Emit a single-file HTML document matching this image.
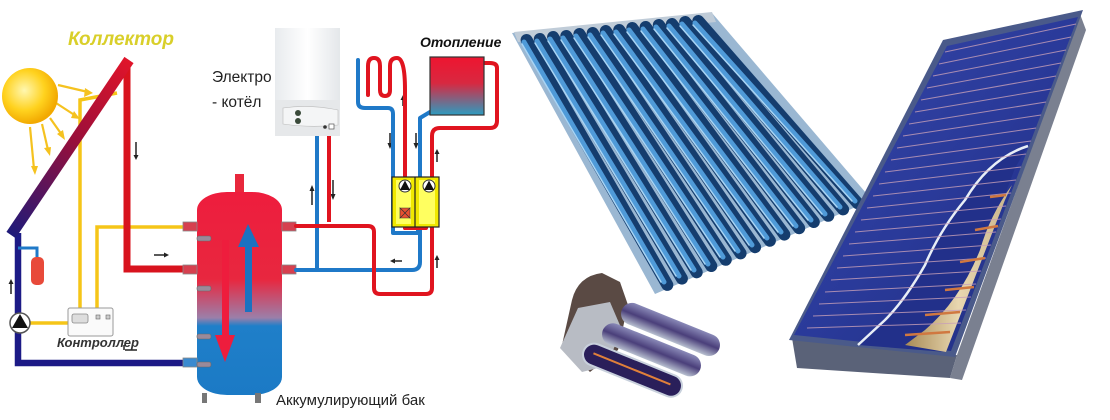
<!DOCTYPE html>
<html><head><meta charset="utf-8"><style>
html,body{margin:0;padding:0;background:#fff;width:1110px;height:420px;overflow:hidden}
svg{display:block}
</style></head><body>
<svg width="1110" height="420" viewBox="0 0 1110 420" xmlns="http://www.w3.org/2000/svg" font-family="Liberation Sans, DejaVu Sans, sans-serif">
<defs>
<radialGradient id="sun" cx="0.4" cy="0.4" r="0.6"><stop offset="0" stop-color="#fff7b0"/><stop offset="0.6" stop-color="#ffd21e"/><stop offset="1" stop-color="#f2a900"/></radialGradient>
<linearGradient id="coll" x1="127" y1="60" x2="10" y2="235" gradientUnits="userSpaceOnUse"><stop offset="0" stop-color="#e0142a"/><stop offset="0.45" stop-color="#9a0f3a"/><stop offset="1" stop-color="#1d1a7a"/></linearGradient>
<linearGradient id="tank" x1="0" y1="0" x2="0" y2="1"><stop offset="0" stop-color="#ee1d3d"/><stop offset="0.43" stop-color="#e8273f"/><stop offset="0.62" stop-color="#9b7fa9"/><stop offset="0.66" stop-color="#1f7fc9"/><stop offset="1" stop-color="#1b7ac5"/></linearGradient>
<linearGradient id="rad" x1="0" y1="0" x2="0" y2="1"><stop offset="0" stop-color="#ee1530"/><stop offset="0.45" stop-color="#d82840"/><stop offset="1" stop-color="#2d9cc0"/></linearGradient>
<linearGradient id="boiler" x1="0" y1="0" x2="1" y2="0"><stop offset="0" stop-color="#e8ebee"/><stop offset="0.5" stop-color="#ffffff"/><stop offset="1" stop-color="#e4e7ea"/></linearGradient>
<linearGradient id="glass" x1="0" y1="0" x2="1" y2="1"><stop offset="0" stop-color="#3848a8"/><stop offset="0.5" stop-color="#2a3a9a"/><stop offset="1" stop-color="#1f2c7e"/></linearGradient>
<linearGradient id="gold" x1="0" y1="0" x2="1" y2="0"><stop offset="0" stop-color="#a88a55"/><stop offset="0.5" stop-color="#e8d7b0"/><stop offset="1" stop-color="#c8b48a"/></linearGradient>
<linearGradient id="ctube" x1="0" y1="0" x2="0" y2="1"><stop offset="0" stop-color="#8a8ab8"/><stop offset="0.5" stop-color="#4a3f7a"/><stop offset="1" stop-color="#b8c0d0"/></linearGradient>
</defs>

<!-- SUN -->
<g stroke="#f5c21f" stroke-width="2.2" fill="#f5c21f">
<line x1="58" y1="85" x2="88" y2="92"/><polygon points="93,93 85,88 84,97" stroke="none"/>
<line x1="56" y1="103" x2="76" y2="116"/><polygon points="80,119 74,111 71,118" stroke="none"/>
<line x1="50" y1="118" x2="62" y2="135"/><polygon points="65,140 63,130 57,134" stroke="none"/>
<line x1="42" y1="124" x2="48" y2="150"/><polygon points="50,156 51,147 44,148" stroke="none"/>
<line x1="30" y1="127" x2="34" y2="169"/><polygon points="35,175 38,166 31,166" stroke="none"/>
</g>
<circle cx="30" cy="96" r="28" fill="url(#sun)"/>
<text x="68" y="45" font-size="19" font-weight="bold" font-style="italic" fill="#d9cf2a">Коллектор</text>

<g stroke="#f5c518" stroke-width="3.5" fill="none">
<polyline points="80,308 80,100 117,93"/>
<polyline points="97,308 97,227 190,227"/>
<line x1="30" y1="323" x2="68" y2="323"/>
</g>
<polyline points="127,65 127,269 195,269" stroke="#d8131e" stroke-width="7" fill="none"/>
<polyline points="18,233 18,363 195,363" stroke="#1c1a86" stroke-width="6.5" fill="none"/>
<line x1="11" y1="235" x2="129" y2="60" stroke="url(#coll)" stroke-width="11"/>
<polyline points="18,248 37,248 37,258" stroke="#1f79c8" stroke-width="3" fill="none"/>
<rect x="31" y="257" width="13" height="28" rx="5" fill="#e84a3a"/>
<g stroke="#222" stroke-width="1.5" fill="#222">
<line x1="11" y1="294" x2="11" y2="282"/><polygon points="8.5,284 13.5,284 11,279" stroke="none"/>
<line x1="136" y1="142" x2="136" y2="158"/><polygon points="133.5,155 138.5,155 136,160" stroke="none"/>
<line x1="154" y1="255" x2="166" y2="255"/><polygon points="164,252.5 164,257.5 169,255" stroke="none"/>
<line x1="125" y1="350" x2="137" y2="350"/><line x1="124" y1="350" x2="124" y2="345"/>
<line x1="312" y1="205" x2="312" y2="188"/><polygon points="309.5,191 314.5,191 312,185" stroke="none"/>
<line x1="333" y1="180" x2="333" y2="197"/><polygon points="330.5,194 335.5,194 333,200" stroke="none"/>
<line x1="403" y1="106" x2="403" y2="97"/><polygon points="400.5,100 405.5,100 403,95" stroke="none"/>
<line x1="390" y1="133" x2="390" y2="146"/><polygon points="387.5,143 392.5,143 390,149" stroke="none"/>
<line x1="416" y1="133" x2="416" y2="146"/><polygon points="413.5,143 418.5,143 416,149" stroke="none"/>
<line x1="437" y1="162" x2="437" y2="152"/><polygon points="434.5,154 439.5,154 437,149" stroke="none"/>
<line x1="437" y1="268" x2="437" y2="258"/><polygon points="434.5,260 439.5,260 437,255" stroke="none"/>
<line x1="402" y1="261" x2="393" y2="261"/><polygon points="395,258.5 395,263.5 390,261" stroke="none"/>
</g>
<circle cx="20" cy="323" r="10" fill="#fff" stroke="#555" stroke-width="1.5"/>
<polygon points="20,314 12,328 28,328" fill="#111"/>
<rect x="68" y="308" width="45" height="28" rx="2" fill="#fafafa" stroke="#999" stroke-width="1"/>
<rect x="72" y="314" width="16" height="9" rx="2" fill="#ddd" stroke="#888" stroke-width="0.8"/>
<rect x="96" y="315" width="4" height="4" fill="#ccc" stroke="#666" stroke-width="0.6"/>
<rect x="106" y="315" width="4" height="4" fill="#ccc" stroke="#666" stroke-width="0.6"/>
<text x="57" y="347" font-size="13" font-weight="bold" font-style="italic" fill="#333">Контроллер</text>

<!-- TANK -->
<rect x="235" y="174" width="9" height="20" fill="#e8283c"/>
<rect x="197" y="192" width="85" height="203" rx="30" ry="18" fill="url(#tank)"/>
<rect x="202" y="393" width="5" height="10" fill="#777"/><rect x="255" y="393" width="6" height="10" fill="#777"/>
<g fill="#d6404f" stroke="#888" stroke-width="0.8">
<rect x="183" y="222" width="14" height="9"/><rect x="183" y="265" width="14" height="9"/>
<rect x="282" y="222" width="14" height="9"/><rect x="282" y="265" width="14" height="9"/>
</g>
<rect x="183" y="358" width="14" height="9" fill="#3a8ad0" stroke="#888" stroke-width="0.8"/>
<g fill="#9a8a9a" stroke="#666" stroke-width="0.6">
<rect x="197" y="236" width="14" height="5" rx="2"/><rect x="197" y="286" width="14" height="5" rx="2"/>
<rect x="197" y="334" width="14" height="5" rx="2"/><rect x="197" y="362" width="14" height="5" rx="2"/>
</g>
<polygon points="248,224 238,247 245,247 245,312 252,312 252,247 259,247" fill="#1b72c0"/>
<polygon points="222,240 229,240 229,335 235,335 225,362 215,335 222,335" fill="#ee1d3d"/>
<text x="276" y="405" font-size="15" fill="#222">Аккумулирующий бак</text>

<!-- BOILER -->
<rect x="275" y="28" width="65" height="108" fill="url(#boiler)"/>
<rect x="275" y="100" width="65" height="36" fill="#e6e8ea"/>
<path d="M283,108 Q310,104 338,110 L338,125 Q310,128 283,124 Z" fill="#f4f5f6" stroke="#bbb" stroke-width="0.6"/>
<circle cx="298" cy="113" r="3" fill="#3a4a3a"/><circle cx="298" cy="121" r="3" fill="#3a4a3a"/>
<circle cx="325" cy="127" r="1.8" fill="#333"/><rect x="329" y="124" width="5" height="5" fill="#fff" stroke="#555" stroke-width="0.7"/>
<text x="212" y="82" font-size="15.5" fill="#222">Электро</text>
<text x="212" y="107" font-size="15.5" fill="#222">- котёл</text>
<line x1="317" y1="136" x2="317" y2="270" stroke="#1f79c8" stroke-width="4"/>
<line x1="329" y1="136" x2="329" y2="222" stroke="#e0141f" stroke-width="4"/>

<g fill="none" stroke-linejoin="round" stroke-linecap="round">
<path d="M296,270 L412,270 Q420,270 420,262 L420,118 L430,112" stroke="#1f79c8" stroke-width="4"/>
<path d="M358,60 L358,102 Q358,108 365,108 L388,108 Q393,108 393,114 L393,233 L418,233 L418,190" stroke="#1f79c8" stroke-width="4"/>
<path d="M296,226 L368,226 Q374,226 374,232 L374,288 Q374,294 380,294 L426,294 Q432,294 432,288 L432,136 Q432,128 440,128 L490,128 Q497,128 497,121 L497,68 Q497,63 490,63 L484,63" stroke="#e0141f" stroke-width="4"/>
<path d="M405,228 L426,228 L426,180" stroke="#e0141f" stroke-width="4"/>
<path d="M405,228 L405,90 M405,90 Q405,58 397,58 Q390,58 390,66 L390,90 Q390,96 385,96 Q380,96 380,90 L380,66 Q380,58 374,58 Q368,58 368,66 L368,95" stroke="#e0141f" stroke-width="4"/>
</g>
<rect x="392" y="177" width="47" height="50" fill="#f0e800" stroke="#222" stroke-width="1.2"/>
<line x1="415" y1="177" x2="415" y2="227" stroke="#222" stroke-width="1.2"/>
<rect x="396" y="180" width="15" height="44" fill="#ffff60"/><rect x="419" y="180" width="16" height="44" fill="#ffff60"/>
<circle cx="405" cy="186" r="6" fill="#fff" stroke="#333" stroke-width="1"/><polygon points="405,180.5 400,190 410,190" fill="#111"/>
<circle cx="429" cy="186" r="6" fill="#fff" stroke="#333" stroke-width="1"/><polygon points="429,180.5 424,190 434,190" fill="#111"/>
<g fill="#e85030" stroke="#333" stroke-width="0.6"><polygon points="405,213 400,208 410,208"/><polygon points="405,213 400,218 410,218"/><polygon points="405,213 400,208 400,218"/><polygon points="405,213 410,208 410,218"/></g>
<rect x="430" y="57" width="54" height="58" fill="url(#rad)" stroke="#333" stroke-width="1.2"/>
<text x="420" y="47" font-size="14" font-weight="bold" font-style="italic" fill="#111">Отопление</text>

<!-- EVACUATED TUBE COLLECTOR -->
<polygon points="512,33 712,13 872,200 655,294" fill="#9ab7d2"/>
<polygon points="514,32 712,12 716,22 518,42" fill="#c0ccd8"/>
<g stroke-linecap="round">
<g stroke="#153d6e" stroke-width="12">
<line x1="526.6" y1="40" x2="667.3" y2="284.9"/><line x1="539.8" y1="39" x2="681.9" y2="278.6"/><line x1="553.1" y1="37" x2="696.7" y2="272.3"/><line x1="566.3" y1="36" x2="711.3" y2="266"/><line x1="579.4" y1="34" x2="725.8" y2="259.8"/><line x1="592.7" y1="33" x2="740.6" y2="253.4"/><line x1="605.8" y1="31" x2="755.1" y2="247.2"/><line x1="619.2" y1="30" x2="769.9" y2="240.8"/><line x1="632.3" y1="28" x2="784.4" y2="234.6"/><line x1="645.6" y1="27" x2="799.2" y2="228.2"/><line x1="658.8" y1="25" x2="813.8" y2="222"/><line x1="671.9" y1="24" x2="828.3" y2="215.8"/><line x1="685.2" y1="22" x2="843.1" y2="209.4"/><line x1="698.3" y1="21" x2="857.6" y2="203.2"/>
</g>
<g stroke="#4f9ad8" stroke-width="5">
<line x1="524" y1="42" x2="664" y2="282"/><line x1="537" y1="41" x2="679" y2="276"/><line x1="550" y1="39" x2="694" y2="270"/><line x1="563" y1="38" x2="708" y2="264"/><line x1="576" y1="36" x2="723" y2="257"/><line x1="590" y1="35" x2="738" y2="251"/><line x1="603" y1="33" x2="752" y2="245"/><line x1="616" y1="32" x2="767" y2="238"/><line x1="629" y1="30" x2="781" y2="232"/><line x1="643" y1="29" x2="796" y2="226"/><line x1="656" y1="27" x2="811" y2="220"/><line x1="669" y1="26" x2="825" y2="214"/><line x1="682" y1="24" x2="840" y2="207"/><line x1="695" y1="23" x2="855" y2="201"/>
</g>
<g stroke="#a8d4f4" stroke-width="1.5">
<line x1="522" y1="44" x2="661" y2="282"/><line x1="535" y1="43" x2="676" y2="276"/><line x1="548" y1="41" x2="691" y2="270"/><line x1="561" y1="40" x2="705" y2="264"/><line x1="574" y1="38" x2="720" y2="257"/><line x1="588" y1="37" x2="735" y2="251"/><line x1="601" y1="35" x2="749" y2="245"/><line x1="614" y1="34" x2="764" y2="238"/><line x1="627" y1="32" x2="778" y2="232"/><line x1="641" y1="31" x2="793" y2="226"/><line x1="654" y1="29" x2="808" y2="220"/><line x1="667" y1="28" x2="822" y2="214"/><line x1="680" y1="26" x2="837" y2="207"/><line x1="693" y1="25" x2="852" y2="201"/>
</g>
</g>

<!-- SMALL TUBE CUTAWAY -->
<g>
<path d="M572,300 Q578,276 602,273 L620,282 L628,305 L618,350 L590,372 L562,345 Z" fill="#5a4a44"/>
<path d="M578,308 L610,302 L622,330 L606,366 L582,372 L560,348 Z" fill="#b8bcc4"/>
<g transform="rotate(22 625 310)">
<rect x="622" y="300" width="105" height="22" rx="11" fill="url(#ctube)"/>
<rect x="612" y="326" width="105" height="22" rx="11" fill="url(#ctube)"/>
<rect x="602" y="352" width="105" height="22" rx="11" fill="#2a1f5a" stroke="#c8d0dc" stroke-width="2"/>
<line x1="612" y1="362" x2="695" y2="362" stroke="#e0803a" stroke-width="2"/>
</g>
</g>

<!-- FLAT PANEL -->
<polygon points="792,338 797,368 950,378 957,355" fill="#5a6278"/>
<polygon points="950,378 957,355 1080,14 1086,30 962,380" fill="#7a8090"/>
<polygon points="943,40 1083,10 955,357 789,340" fill="#4a5a8a"/>
<polygon points="947,46 1078,17 951,351 794,335" fill="url(#glass)"/>
<path d="M1028,146 Q990,158 965,200 Q940,230 925,265 Q905,300 885,320 L858,345 L946,352 L1015,168 Z" fill="#22308a"/>
<path d="M1012,185 Q990,215 980,250 Q960,300 925,330 L905,345 L946,352 L1005,200 Z" fill="url(#gold)"/>
<path d="M1028,146 Q990,158 965,200 Q940,230 925,265 Q905,300 885,320 L858,345" fill="none" stroke="#e8eef6" stroke-width="2.5"/>
<g stroke="#c8a0b8" stroke-width="1" opacity="0.8">
<line x1="945" y1="52" x2="1076" y2="24"/><line x1="939" y1="64" x2="1071" y2="37"/><line x1="933" y1="76" x2="1066" y2="50"/><line x1="927" y1="88" x2="1061" y2="63"/><line x1="921" y1="100" x2="1056" y2="76"/><line x1="915" y1="112" x2="1051" y2="89"/><line x1="909" y1="124" x2="1046" y2="102"/><line x1="903" y1="136" x2="1041" y2="115"/><line x1="897" y1="148" x2="1036" y2="128"/><line x1="891" y1="160" x2="1031" y2="141"/><line x1="885" y1="172" x2="1026" y2="154"/><line x1="879" y1="184" x2="1021" y2="167"/><line x1="873" y1="196" x2="1016" y2="180"/><line x1="867" y1="208" x2="1011" y2="193"/><line x1="861" y1="220" x2="1006" y2="206"/><line x1="855" y1="232" x2="1001" y2="219"/><line x1="849" y1="244" x2="996" y2="232"/><line x1="843" y1="256" x2="991" y2="245"/><line x1="837" y1="268" x2="986" y2="258"/><line x1="831" y1="280" x2="981" y2="271"/><line x1="825" y1="292" x2="976" y2="284"/><line x1="819" y1="304" x2="971" y2="297"/><line x1="813" y1="316" x2="966" y2="310"/><line x1="807" y1="328" x2="961" y2="323"/>
</g>
<g stroke="#d07840" stroke-width="2.5" fill="none">
<path d="M990,197 L1006,195"/><path d="M975,230 L998,226"/><path d="M960,262 L985,258"/><path d="M945,290 L974,287"/><path d="M925,315 L960,312"/><path d="M905,335 L950,332"/>
</g>
</svg>
</body></html>
